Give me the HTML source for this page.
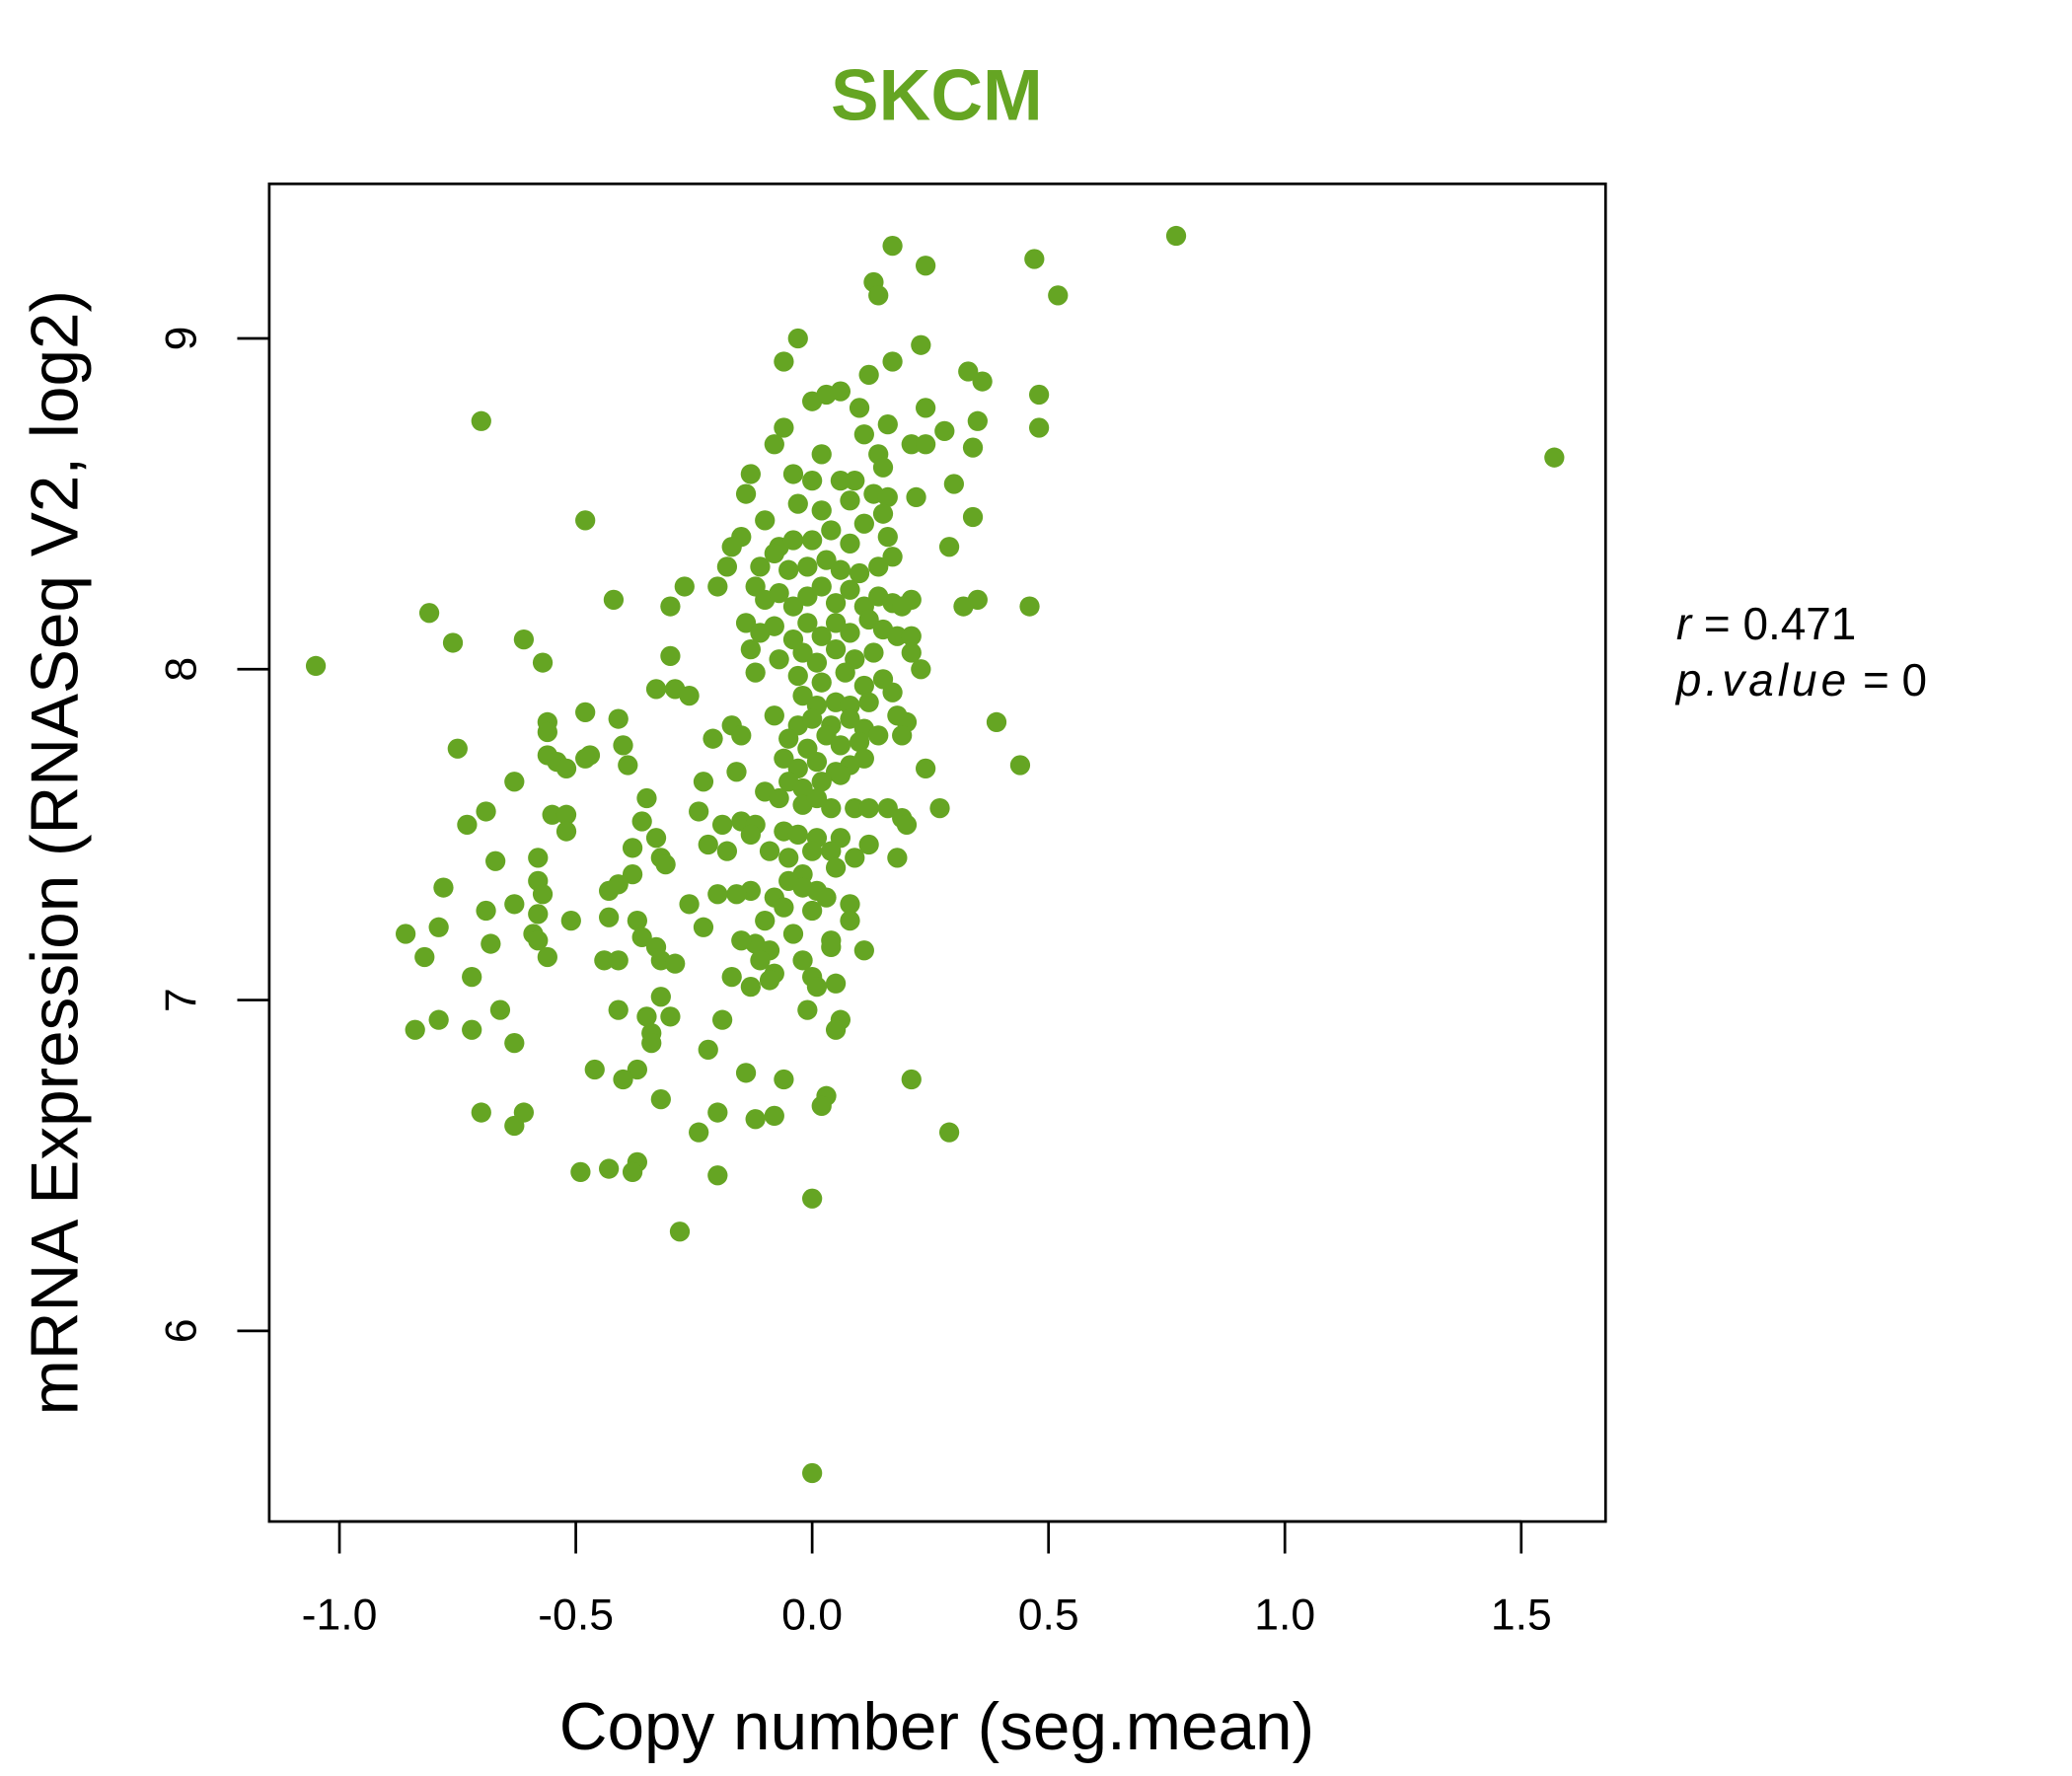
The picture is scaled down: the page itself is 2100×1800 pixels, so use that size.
<!DOCTYPE html>
<html><head><meta charset="utf-8"><style>
html,body{margin:0;padding:0;background:#fff;}
svg{display:block;font-family:"Liberation Sans",sans-serif;}
</style></head><body>
<svg id="chart" width="2100" height="1800" viewBox="0 0 1555 1333" xmlns="http://www.w3.org/2000/svg">
<rect width="1555" height="1333" fill="#fff"/>
<text x="703" y="90" text-anchor="middle" font-size="54" font-weight="bold" fill="#65a523">SKCM</text>
<rect x="202" y="138" width="1003" height="1004" fill="none" stroke="#000" stroke-width="2"/>
<g id="points"></g>
<g id="xaxis"></g>
<g id="yaxis"></g>
<text x="703" y="1313" text-anchor="middle" font-size="50">Copy number (seg.mean)</text>
<text transform="translate(58,640) rotate(-90)" text-anchor="middle" font-size="50">mRNA Expression (RNASeq V2, log2)</text>
<text x="1258" y="480" font-size="34"><tspan font-style="italic">r</tspan> = 0.471</text>
<text x="1258" y="522" font-size="34"><tspan font-style="italic" letter-spacing="3">p.value</tspan> = 0</text>
</svg>
<script>
const xTicks=[-1.0,-0.5,0.0,0.5,1.0,1.5];
const xTickLabels=["-1.0","-0.5","0.0","0.5","1.0","1.5"];
const yTicks=[6,7,8,9];
const yTickLabels=["6","7","8","9"];
const xVals=[-1.05,-0.70,1.57,0.77,0.0,-0.28,0.0,0.47,0.52,0.17,0.24,0.13,0.14,-0.03,0.23,-0.06,0.17,0.33,0.36,0.48,0.48,0.24,0.12,0.0,0.03,0.06,0.10,0.35,0.34,0.28,0.21,0.24,0.16,0.11,0.14,0.15,-0.06,-0.08,0.02,0.30,0.22,-0.13,-0.14,-0.04,0,0.06,0.09,-0.03,0.02,0.08,0.13,0.16,-0.48,0.34,-0.10,-0.15,-0.17,-0.07,-0.04,0,0.04,0.08,0.11,0.15,0.16,0.29,-0.11,-0.08,-0.05,-0.01,0.03,0.06,0.10,0.14,0.17,-0.18,-0.20,-0.27,-0.30,-0.42,-0.12,-0.10,-0.07,-0.04,-0.01,0.02,0.05,0.08,0.11,0.14,0.17,0.21,0.19,0.35,0.32,0.46,-0.81,-0.14,-0.11,-0.08,-0.04,-0.01,0.02,0.05,0.08,0.12,0.15,0.18,0.21,-0.61,-0.76,-0.13,-0.07,-0.02,0.01,0.05,0.09,0.13,0.21,-0.30,-0.57,-0.12,-0.03,0.02,0.07,0.11,0.15,0.23,-0.33,-0.29,-0.26,-0.02,0.01,0.05,0.08,0.12,0.17,-0.48,-0.08,-0.03,0,0.04,0.08,0.11,0.18,0.20,-0.41,0.39,-0.56,-0.56,-0.17,-0.21,-0.15,-0.05,-0.01,0.03,0.06,0.10,0.14,0.19,-0.75,-0.40,-0.39,-0.06,-0.03,0.01,0.05,0.08,0.11,-0.56,-0.54,-0.52,-0.48,-0.47,0.44,0.24,-0.05,-0.02,0.02,0.06,-0.63,-0.23,-0.16,-0.10,-0.07,-0.02,0.01,0.04,-0.35,-0.24,-0.19,-0.15,0.27,0.09,0.12,0.16,0.19,0.20,-0.69,-0.55,-0.52,-0.73,-0.36,-0.12,-0.06,-0.03,0.01,0.06,-0.52,-0.33,-0.13,-0.09,-0.05,-0.22,-0.18,0.12,0.09,0.04,0,-0.38,-0.58,-0.32,-0.31,0.18,-0.67,0.05,-0.02,-0.05,-0.38,-0.41,-0.43,-0.78,-0.58,-0.57,-0.13,-0.16,-0.20,-0.08,-0.06,-0.02,0.01,0.03,0.08,0,-0.26,-0.63,-0.69,-0.58,0.08,-0.23,-0.04,-0.10,-0.12,-0.15,-0.37,-0.86,-0.79,-0.51,-0.43,-0.59,-0.58,-0.68,-0.56,-0.36,-0.33,-0.82,-0.44,-0.41,-0.32,-0.29,-0.09,-0.11,-0.08,-0.09,-0.13,0.04,0.04,0.11,-0.02,-0.17,0,0.05,0.01,-0.72,-0.32,-0.66,-0.41,-0.01,0.06,0.05,-0.79,-0.84,-0.72,-0.35,-0.30,-0.19,-0.34,-0.34,-0.63,-0.22,-0.46,-0.37,-0.40,-0.14,-0.06,0.21,0.03,0.02,-0.32,-0.70,-0.61,-0.63,-0.20,-0.12,-0.08,-0.24,0.29,-0.49,-0.43,-0.37,-0.38,-0.20];
const yVals=[8.01,8.75,8.64,9.31,5.57,6.30,6.40,9.24,9.13,9.28,9.22,9.17,9.13,9.0,8.98,8.93,8.93,8.90,8.87,8.83,8.73,8.79,8.89,8.81,8.83,8.84,8.79,8.75,8.67,8.72,8.68,8.68,8.74,8.71,8.65,8.61,8.73,8.68,8.65,8.56,8.52,8.59,8.53,8.59,8.57,8.57,8.57,8.50,8.48,8.51,8.53,8.52,8.45,8.46,8.45,8.40,8.37,8.37,8.39,8.39,8.42,8.38,8.44,8.47,8.40,8.37,8.31,8.35,8.30,8.31,8.33,8.30,8.29,8.31,8.34,8.31,8.25,8.25,8.19,8.21,8.25,8.21,8.23,8.19,8.22,8.25,8.20,8.24,8.19,8.22,8.20,8.21,8.19,8.21,8.19,8.19,8.17,8.14,8.11,8.13,8.09,8.14,8.10,8.14,8.11,8.15,8.12,8.10,8.10,8.09,8.08,8.06,8.03,8.05,8.02,8.06,8.03,8.05,8.05,8.04,8.02,7.99,7.98,7.96,7.99,7.95,7.97,8.00,7.94,7.94,7.92,7.92,7.89,7.90,7.89,7.90,7.93,7.87,7.86,7.83,7.85,7.83,7.85,7.82,7.86,7.84,7.85,7.84,7.84,7.81,7.83,7.79,7.80,7.79,7.76,7.80,7.77,7.78,7.80,7.80,7.76,7.77,7.71,7.73,7.70,7.72,7.69,7.71,7.73,7.74,7.72,7.70,7.73,7.74,7.71,7.70,7.66,7.64,7.66,7.68,7.66,7.66,7.69,7.63,7.61,7.59,7.61,7.58,7.61,7.57,7.53,7.54,7.58,7.58,7.58,7.58,7.55,7.53,7.57,7.56,7.56,7.53,7.54,7.53,7.51,7.50,7.49,7.49,7.51,7.49,7.50,7.45,7.43,7.47,7.45,7.47,7.43,7.45,7.45,7.46,7.43,7.43,7.41,7.43,7.42,7.40,7.38,7.36,7.38,7.35,7.33,7.34,7.36,7.32,7.33,7.32,7.32,7.31,7.28,7.34,7.33,7.31,7.29,7.27,7.29,7.29,7.27,7.26,7.24,7.22,7.20,7.24,7.17,7.18,7.24,7.20,7.22,7.24,7.25,7.20,7.18,7.17,7.13,7.19,7.16,7.13,7.12,7.12,7.12,7.11,7.15,7.12,7.08,7.06,7.04,7.18,7.16,7.15,7.12,7.07,7.07,7.05,7.04,7.07,7.01,6.97,6.97,6.97,6.94,6.91,6.94,6.91,6.91,6.95,6.95,6.94,6.90,6.87,6.87,6.85,6.79,6.79,6.76,6.78,6.76,6.76,6.71,6.68,6.70,6.66,6.66,6.62,6.66,6.64,6.65,6.60,6.60,6.48,6.49,6.51,6.48,6.47];
const NS='http://www.w3.org/2000/svg';
function xs(v){return 609.5+v*354.8;}
function ys(v){return 254+(9-v)*248.3;}
const pts=document.getElementById('points');
const n=Math.min(xVals.length,yVals.length);
for(let i=0;i<n;i++){
 const c=document.createElementNS(NS,'circle');
 
 
 c.setAttribute('cx',xs(xVals[i]));c.setAttribute('cy',ys(yVals[i]));
 c.setAttribute('r',7.5);c.setAttribute('fill','#65a523');
 pts.appendChild(c);
}
const xa=document.getElementById('xaxis');
xTicks.forEach((t,i)=>{
 const l=document.createElementNS(NS,'line');
 
 
 l.setAttribute('x1',xs(t));l.setAttribute('x2',xs(t));l.setAttribute('y1',1142);l.setAttribute('y2',1166);
 l.setAttribute('stroke','#000');l.setAttribute('stroke-width',2);xa.appendChild(l);
 const tx=document.createElementNS(NS,'text');
 
 
 tx.setAttribute('x',xs(t));tx.setAttribute('y',1223);tx.setAttribute('text-anchor','middle');tx.setAttribute('font-size','33');
 tx.textContent=xTickLabels[i];xa.appendChild(tx);
});
const bl=document.createElementNS(NS,'line');


bl.setAttribute('x1',xs(xTicks[0]));bl.setAttribute('x2',xs(xTicks[xTicks.length-1]));bl.setAttribute('y1',1142);bl.setAttribute('y2',1142);
bl.setAttribute('stroke','#000');bl.setAttribute('stroke-width',2);xa.appendChild(bl);
const ya=document.getElementById('yaxis');
yTicks.forEach((t,i)=>{
 const l=document.createElementNS(NS,'line');
 
 
 l.setAttribute('x1',178);l.setAttribute('x2',202);l.setAttribute('y1',ys(t));l.setAttribute('y2',ys(t));
 l.setAttribute('stroke','#000');l.setAttribute('stroke-width',2);ya.appendChild(l);
 const tx=document.createElementNS(NS,'text');
 
 
 tx.setAttribute('transform','translate(147,'+ys(t)+') rotate(-90)');tx.setAttribute('text-anchor','middle');tx.setAttribute('font-size','33');
 tx.textContent=yTickLabels[i];ya.appendChild(tx);
});
</script>
</body></html>
